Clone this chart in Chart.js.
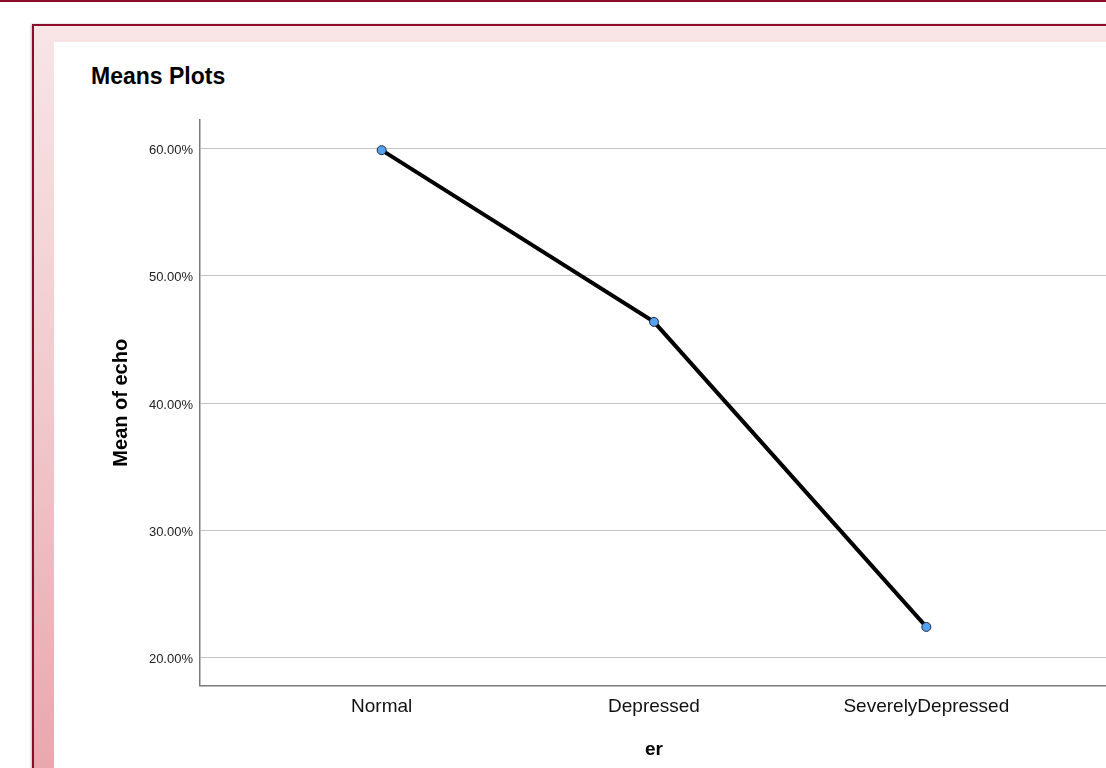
<!DOCTYPE html>
<html>
<head>
<meta charset="utf-8">
<script src="https://cdn.jsdelivr.net/npm/chart.js@4.4.1/dist/chart.umd.min.js"></script>
<style>
  html, body { margin: 0; padding: 0; width: 1106px; height: 768px; overflow: hidden; background: #ffffff; }
  #topline { position: absolute; left: 0; top: 0; width: 1106px; height: 2px; background: #8c0b2b; }
  #frame { position: absolute; left: 32px; top: 24px; width: 1100px; height: 760px;
           border-top: 2px solid #8c0b2b; border-left: 2px solid #8c0b2b;
           background: linear-gradient(to bottom, #f8e5e6 0%, #f1c8cc 50%, #e8a6ac 100%);
           box-shadow: -1px 0 2px rgba(0,0,0,0.25); }
  #panel { position: absolute; left: 54px; top: 42px; width: 1100px; height: 760px; background: #ffffff; }
  #title { position: absolute; left: 91px; top: 65px; font: bold 23px/22px "Liberation Sans", Arial, sans-serif; color: #000; white-space: nowrap; }
  #c { position: absolute; left: 0; top: 0; }
</style>
</head>
<body>
<div id="topline"></div>
<div id="frame"></div>
<div id="panel"></div>
<div id="title">Means Plots</div>
<canvas id="c" width="1120" height="768" style="width:1120px;height:768px"></canvas>
<script>
const categories = ["Normal", "Depressed", "SeverelyDepressed"];
const meanEcho = [59.87, 46.38, 22.42];
const yTicks = [20, 30, 40, 50, 60];
const xTitle = "er";
const yTitle = "Mean of echo";

const points = categories.map((c, i) => ({ x: i, y: meanEcho[i] }));
const FONT = '"Liberation Sans", Arial, sans-serif';

new Chart(document.getElementById('c'), {
  type: 'line',
  data: {
    datasets: [{
      data: points,
      borderColor: '#000000',
      borderWidth: 4,
      pointRadius: 4.5,
      pointBorderWidth: 1,
      pointBackgroundColor: '#55a3ee',
      pointBorderColor: '#1b2b44',
      tension: 0,
      fill: false
    }]
  },
  options: {
    responsive: false,
    devicePixelRatio: 1,
    animation: false,
    layout: { padding: { left: 0, top: 120, right: 12, bottom: 0 } },
    plugins: { legend: { display: false }, tooltip: { enabled: false }, title: { display: false } },
    scales: {
      x: {
        type: 'linear',
        min: -0.667,
        max: 2.667,
        afterBuildTicks: s => { s.ticks = categories.map((c, i) => ({ value: i })); },
        afterFit: s => { s.height = 82.5; },
        grid: { display: false, drawTicks: false },
        border: { display: true, color: '#7a7a7a', width: 1.5 },
        ticks: {
          padding: 10,
          color: '#111',
          font: { family: FONT, size: 19 },
          callback: v => categories[v]
        },
        title: {
          display: true, text: xTitle, color: '#000',
          font: { family: FONT, size: 19, weight: 'bold' },
          padding: { top: 0, bottom: 7 }
        }
      },
      y: {
        type: 'linear',
        min: 17.82,
        max: 62.24,
        afterBuildTicks: s => { s.ticks = yTicks.map(v => ({ value: v })); },
        afterFit: s => { s.width = 200; },
        grid: { display: true, drawTicks: false, color: '#c4c4c4', lineWidth: 1 },
        border: { display: true, color: '#7a7a7a', width: 1.5 },
        ticks: {
          padding: 7,
          labelOffset: 2,
          color: '#222',
          font: { family: FONT, size: 13 },
          callback: v => v.toFixed(2) + '%'
        },
        title: {
          display: true, text: yTitle, color: '#000',
          font: { family: FONT, size: 20, weight: 'bold' },
          padding: { top: 109, bottom: 0 }
        }
      }
    }
  }
});
</script>
</body>
</html>
